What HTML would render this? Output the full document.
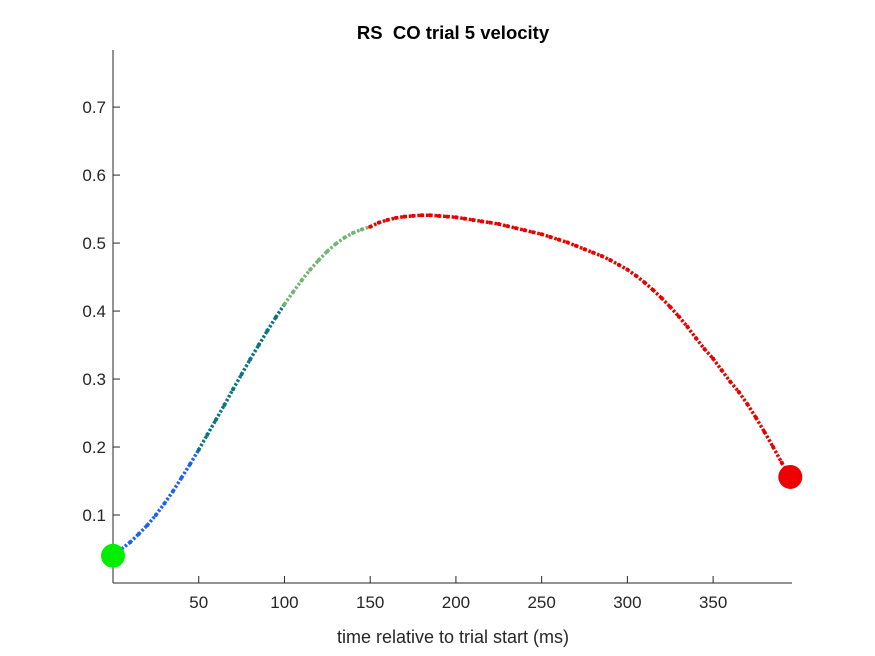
<!DOCTYPE html>
<html><head><meta charset="utf-8"><style>
body{margin:0;background:#fff;}
svg{display:block;font-family:"Liberation Sans",Arial,sans-serif;}
</style></head><body>
<svg id="chart" width="875" height="656">
<text x="453" y="39" text-anchor="middle" font-size="18.5" font-weight="bold" fill="#000">RS&#160; CO trial 5 velocity</text>
<g id="axes"></g>
<g id="marks"></g>
<text x="453" y="643" text-anchor="middle" font-size="18" fill="#262626">time relative to trial start (ms)</text>
</svg>
<script>
const times = [0,5,10,15,20,25,30,35,40,45,50,55,60,65,70,75,80,85,90,95,100,105,110,115,120,125,130,135,140,145,150,155,160,165,170,175,180,185,190,195,200,205,210,215,220,225,230,235,240,245,250,255,260,265,270,275,280,285,290,295,300,305,310,315,320,325,330,335,340,345,350,355,360,365,370,375,380,385,390,395];
const velocity = [0.040,0.050,0.060,0.072,0.085,0.100,0.117,0.135,0.155,0.175,0.196,0.218,0.240,0.262,0.285,0.307,0.329,0.350,0.371,0.391,0.410,0.428,0.445,0.461,0.475,0.488,0.499,0.508,0.515,0.520,0.524,0.530,0.534,0.537,0.539,0.540,0.541,0.541,0.540,0.539,0.538,0.536,0.534,0.532,0.530,0.528,0.525,0.522,0.519,0.516,0.513,0.509,0.505,0.501,0.496,0.491,0.486,0.481,0.475,0.468,0.461,0.452,0.442,0.431,0.419,0.406,0.392,0.377,0.360,0.344,0.330,0.313,0.296,0.281,0.263,0.243,0.222,0.200,0.177,0.156];
const phaseBounds = [50,100,150];
const phaseColors = ["#1f63ec","#0b7480","#74b474","#e60000"];
const xTicks = [50,100,150,200,250,300,350];
const yTicks = [0.1,0.2,0.3,0.4,0.5,0.6,0.7];
const xMin = 0, xMax = 396, yMin = 0, yMax = 0.784;
const L=113, R=792, T=50, B=583;
const sx = v => L + (v - xMin) / (xMax - xMin) * (R - L);
const sy = v => B - (v - yMin) / (yMax - yMin) * (B - T);
const NS="http://www.w3.org/2000/svg";
const axes=document.getElementById('axes'), marks=document.getElementById('marks');
function mk(tag,attrs,parent){const e=document.createElementNS(NS,tag);for(const k in attrs)e.setAttribute(k,attrs[k]);parent.appendChild(e);return e;}
const xa=mk('line',{x1:L,y1:B,x2:R,y2:B,stroke:'#262626','stroke-width':1},axes);


const ya=mk('line',{x1:L,y1:B,x2:L,y2:T,stroke:'#262626','stroke-width':1},axes);


xTicks.forEach(t=>{
  const x=sx(t);
  const tk=mk('line',{x1:x,y1:B,x2:x,y2:B-7,stroke:'#262626'},axes);
  
  
  const lb=mk('text',{x:x,y:B+25,'text-anchor':'middle','font-size':17,fill:'#262626'},axes);
  lb.textContent=t;
  
  
});
yTicks.forEach(t=>{
  const y=sy(t);
  const tk=mk('line',{x1:L,y1:y,x2:L+7,y2:y,stroke:'#262626'},axes);
  
  
  const lb=mk('text',{x:L-7,y:y+6,'text-anchor':'end','font-size':17,fill:'#262626'},axes);
  lb.textContent=t.toFixed(1);
  
  
});
function colorFor(t){for(let i=0;i<phaseBounds.length;i++){if(t<phaseBounds[i])return phaseColors[i];}return phaseColors[phaseColors.length-1];}
for(let i=1;i<times.length;i++){
  const seg=mk('line',{x1:sx(times[i-1]),y1:sy(velocity[i-1]),x2:sx(times[i]),y2:sy(velocity[i]),stroke:colorFor(times[i-1]),'stroke-width':3.5,'stroke-dasharray':'2.5 1.8'},marks);
  
  
}
for(let i=1;i<times.length-1;i++){
  const d=mk('circle',{cx:sx(times[i]),cy:sy(velocity[i]),r:2,fill:colorFor(times[i])},marks);
  
  
}
const s=mk('circle',{cx:sx(times[0]),cy:sy(velocity[0]),r:12,fill:'#00ee00'},marks);


const n=times.length-1;
const e=mk('circle',{cx:sx(times[n]),cy:sy(velocity[n]),r:12,fill:'#ee0000'},marks);


</script>
</body></html>
